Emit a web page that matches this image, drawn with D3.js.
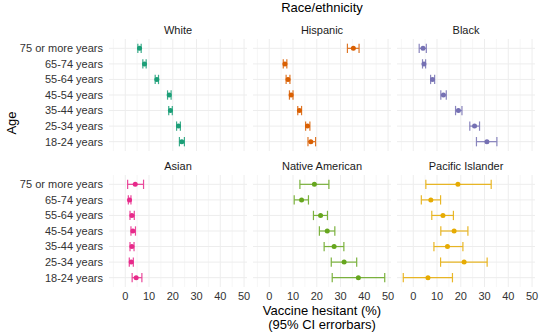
<!DOCTYPE html>
<html>
<head>
<meta charset="utf-8">
<script src="https://cdn.jsdelivr.net/npm/d3@7"></script>
<style>
  body { margin: 0; background: #fff; }
  text { font-family: "Liberation Sans", Arial, sans-serif; }
</style>
</head>
<body>
<div id="chart"></div>
<script>
// Age groups, top to bottom
const ages = ["75 or more years", "65-74 years", "55-64 years", "45-54 years",
              "35-44 years", "25-34 years", "18-24 years"];

const groups = ["White", "Hispanic", "Black", "Asian", "Native American", "Pacific Islander"];
const colors = ["#1B9E77", "#D95F02", "#7570B3", "#E7298A", "#66A61E", "#E6AB02"];

// estimates and 95% CI per group, same order as ages
const whiteEst = [6.0, 8.1, 13.3, 18.5, 19.0, 22.4, 23.8];
const whiteLo  = [5.3, 7.4, 12.6, 17.8, 18.3, 21.6, 22.8];
const whiteHi  = [6.7, 8.8, 14.0, 19.3, 19.8, 23.2, 24.9];

const hispEst = [35.4, 6.6, 7.9, 9.2, 12.7, 16.1, 17.5];
const hispLo  = [32.9, 5.9, 7.1, 8.5, 12.0, 15.3, 16.3];
const hispHi  = [37.8, 7.4, 8.7, 10.0, 13.6, 17.1, 19.5];

const blackEst = [4.1, 4.5, 8.1, 12.7, 19.0, 25.8, 31.0];
const blackLo  = [2.5, 3.9, 7.3, 11.6, 17.8, 23.8, 26.6];
const blackHi  = [5.5, 5.2, 9.0, 13.9, 20.5, 27.9, 35.2];

const asianEst = [4.2, 1.8, 2.8, 3.2, 2.8, 2.5, 4.6];
const asianLo  = [1.0, 1.3, 2.0, 2.4, 2.0, 1.7, 2.9];
const asianHi  = [7.7, 2.4, 3.8, 4.3, 3.7, 3.4, 7.0];

const nativeEst = [19.0, 13.6, 21.6, 24.4, 27.3, 31.5, 37.5];
const nativeLo  = [12.9, 10.5, 18.6, 21.1, 23.1, 26.1, 26.5];
const nativeHi  = [25.1, 16.5, 24.5, 27.6, 31.4, 36.8, 48.6];

const pacEst = [18.8, 7.4, 12.5, 17.2, 14.4, 21.4, 6.2];
const pacLo  = [5.3, 3.4, 7.8, 11.6, 8.7, 11.5, -4.2];
const pacHi  = [32.8, 11.5, 16.9, 23.0, 20.9, 31.1, 16.5];

const xTicks = [0, 10, 20, 30, 40, 50];

const series = [
  [whiteEst, whiteLo, whiteHi],
  [hispEst, hispLo, hispHi],
  [blackEst, blackLo, blackHi],
  [asianEst, asianLo, asianHi],
  [nativeEst, nativeLo, nativeHi],
  [pacEst, pacLo, pacHi]
];

const data = groups.map((g, i) => ({
  group: g,
  color: colors[i],
  rows: ages.map((a, j) => ({
    age: a, est: series[i][0][j], lo: series[i][1][j], hi: series[i][2][j]
  }))
}));

const width = 540, height = 333;
const svg = d3.select("#chart").append("svg")
    .attr("width", width)
    .attr("height", height);

// panel geometry
const panelLeft = 109, panelRight = 535, gap = 6;
const panelW = (panelRight - panelLeft - 2 * gap) / 3;
const rowTops = [39, 175];
const panelH = 112;

// shared x domain with ggplot-like 5% expansion
const allLo = d3.min(data, d => d3.min(d.rows, r => r.lo));
const allHi = d3.max(data, d => d3.max(d.rows, r => r.hi));
const pad = (allHi - allLo) * 0.05;

const x = d3.scaleLinear().domain([allLo - pad, allHi + pad]).range([0, panelW]);
const y = d3.scalePoint().domain(ages).range([0, panelH]).padding(0.6);
const band = y.step();

// title over panels
svg.append("text")
    .attr("x", (panelLeft + panelRight) / 2)
    .attr("y", 12)
    .attr("text-anchor", "middle")
    .attr("font-size", 13)
    .attr("fill", "#000")
    .text("Race/ethnicity");

data.forEach((d, i) => {
  const col = i % 3, row = Math.floor(i / 3);
  const px = panelLeft + col * (panelW + gap);
  const py = rowTops[row];
  const g = svg.append("g").attr("transform", `translate(${px},${py})`);

  // minor grid
  const minor = d3.range(-5, 55, 10).filter(v => v >= x.domain()[0] && v <= x.domain()[1]);
  g.selectAll(".minor").data(minor).enter().append("line")
      .attr("x1", v => x(v)).attr("x2", v => x(v))
      .attr("y1", 0).attr("y2", panelH)
      .attr("stroke", "#F0F0F0").attr("stroke-width", 0.6);

  // major grid
  g.selectAll(".vmajor").data(xTicks).enter().append("line")
      .attr("x1", v => x(v)).attr("x2", v => x(v))
      .attr("y1", 0).attr("y2", panelH)
      .attr("stroke", "#EDEDED").attr("stroke-width", 1);
  g.selectAll(".hmajor").data(ages).enter().append("line")
      .attr("x1", 0).attr("x2", panelW)
      .attr("y1", a => y(a)).attr("y2", a => y(a))
      .attr("stroke", "#EDEDED").attr("stroke-width", 1);

  // strip label
  svg.append("text")
      .attr("x", px + panelW / 2)
      .attr("y", py - 5)
      .attr("text-anchor", "middle")
      .attr("font-size", 11)
      .attr("fill", "#1A1A1A")
      .text(d.group);

  // error bars
  const eb = g.selectAll(".eb").data(d.rows).enter().append("g")
      .attr("stroke", d.color).attr("stroke-width", 1.2).attr("opacity", 0.85);
  eb.append("line")
      .attr("x1", r => x(r.lo)).attr("x2", r => x(r.hi))
      .attr("y1", r => y(r.age)).attr("y2", r => y(r.age));
  eb.append("line")
      .attr("x1", r => x(r.lo)).attr("x2", r => x(r.lo))
      .attr("y1", r => y(r.age) - band * 0.3).attr("y2", r => y(r.age) + band * 0.3);
  eb.append("line")
      .attr("x1", r => x(r.hi)).attr("x2", r => x(r.hi))
      .attr("y1", r => y(r.age) - band * 0.3).attr("y2", r => y(r.age) + band * 0.3);

  g.selectAll(".pt").data(d.rows).enter().append("circle")
      .attr("cx", r => x(r.est))
      .attr("cy", r => y(r.age))
      .attr("r", 2.5)
      .attr("fill", d.color);

  // y axis labels on first column
  if (col === 0) {
    g.selectAll(".ylab").data(ages).enter().append("text")
        .attr("x", -6)
        .attr("y", a => y(a))
        .attr("dy", "0.35em")
        .attr("text-anchor", "end")
        .attr("font-size", 11)
        .attr("fill", "#333")
        .text(a => a);
  }

  // x axis labels on bottom row
  if (row === 1) {
    g.selectAll(".xlab").data(xTicks).enter().append("text")
        .attr("x", v => x(v))
        .attr("y", panelH + 13)
        .attr("text-anchor", "middle")
        .attr("font-size", 11)
        .attr("fill", "#333")
        .text(v => v);
  }
});

// axis titles
svg.append("text")
    .attr("x", (panelLeft + panelRight) / 2)
    .attr("y", 315)
    .attr("text-anchor", "middle")
    .attr("font-size", 13)
    .attr("fill", "#000")
    .text("Vaccine hesitant (%)");
svg.append("text")
    .attr("x", (panelLeft + panelRight) / 2)
    .attr("y", 329)
    .attr("text-anchor", "middle")
    .attr("font-size", 13)
    .attr("fill", "#000")
    .text("(95% CI errorbars)");

svg.append("text")
    .attr("transform", "translate(16,123) rotate(-90)")
    .attr("text-anchor", "middle")
    .attr("font-size", 13)
    .attr("fill", "#000")
    .text("Age");
</script>
</body>
</html>
